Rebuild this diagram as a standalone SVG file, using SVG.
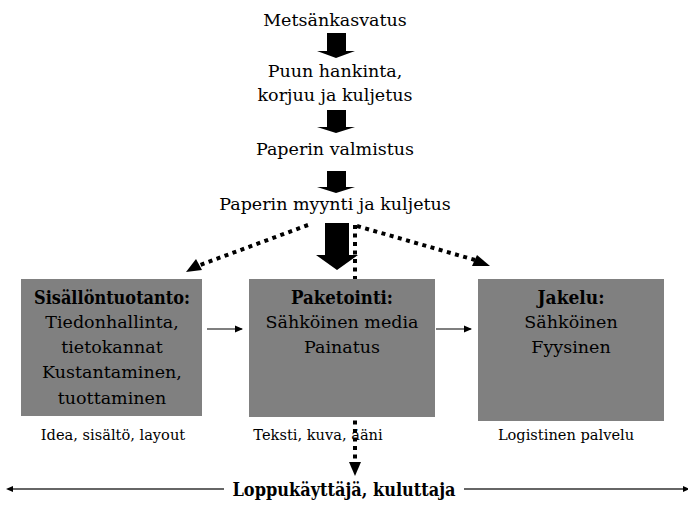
<svg xmlns="http://www.w3.org/2000/svg" width="688" height="506" viewBox="0 0 688 506">
<style>
text{fill:#000;text-anchor:middle;font-family:'DejaVu Serif',serif}
.t{font-size:17.5px}
.b{font-size:18px;font-weight:bold}
.s{font-size:14.6px}
.box{fill:#808080}
.blk{fill:#000}
.dot{fill:none;stroke:#000;stroke-width:4;stroke-dasharray:4 4.5}
.thin{fill:none;stroke:#000;stroke-width:1.2}
.ln{fill:none;stroke:#333;stroke-width:1.3}
</style>
<defs>
<marker id="ah" markerWidth="8" markerHeight="8" refX="7" refY="4" orient="auto" markerUnits="userSpaceOnUse">
<path d="M0,0.5 L8,4 L0,7.5 Z" fill="#000"/>
</marker>
</defs>
<rect width="688" height="506" fill="#fff"/>
<g id="chain">
<text class="t" x="335" y="26">Metsänkasvatus</text>
<text class="t" x="335" y="77">Puun hankinta,</text>
<text class="t" x="335" y="101">korjuu ja kuljetus</text>
<text class="t" x="335" y="155">Paperin valmistus</text>
<text class="t" x="335" y="210">Paperin myynti ja kuljetus</text>
</g>
<g id="connectors">
<path class="blk" d="M327,33 H346 V51 H355 L336,58 L317,51 H327 Z"/>
<path class="blk" d="M327,110 H346 V127 H355 L336,133 L317,127 H327 Z"/>
<path class="blk" d="M327,171 H346 V187 H355 L336,193 L317,187 H327 Z"/>
<path class="blk" d="M325,223 H349 V255 H358 L337,270 L316,255 H325 Z"/>
<path class="dot" d="M308,225 L200,265"/>
<path class="blk" d="M186,272 L196,259 L202,270 Z"/>
<path class="dot" d="M357,226 L475,260"/>
<path class="blk" d="M490,266 L472,266 L477,255 Z"/>
<path class="dot" d="M355,225 V462"/>
<path class="blk" d="M349,462 H361 L355,476 Z"/>
<path class="thin" d="M207,329 H242" marker-end="url(#ah)"/>
<path class="thin" d="M436,329 H471" marker-end="url(#ah)"/>
<path class="ln" d="M224,489 H12"/>
<path class="blk" d="M6,489 L13,486 L13,492 Z"/>
<path class="ln" d="M464,489 H684"/>
<path class="blk" d="M690,489 L683,486 L683,492 Z"/>
</g>
<g id="sisallontuotanto">
<rect class="box" x="21" y="279" width="181" height="137"/>
<text class="b" x="112" y="304" textLength="156" lengthAdjust="spacingAndGlyphs">Sisällöntuotanto:</text>
<text class="t" x="112" y="328">Tiedonhallinta,</text>
<text class="t" x="112" y="353">tietokannat</text>
<text class="t" x="112" y="378">Kustantaminen,</text>
<text class="t" x="112" y="404">tuottaminen</text>
<text class="s" x="113" y="440">Idea, sisältö, layout</text>
</g>
<g id="paketointi">
<rect class="box" x="249" y="279" width="186" height="138"/>
<text class="b" x="342" y="304" textLength="102" lengthAdjust="spacingAndGlyphs">Paketointi:</text>
<text class="t" x="342" y="328">Sähköinen media</text>
<text class="t" x="342" y="353">Painatus</text>
<text class="s" x="318" y="440">Teksti, kuva, ääni</text>
</g>
<g id="jakelu">
<rect class="box" x="478" y="279" width="186" height="142"/>
<text class="b" x="571" y="304" textLength="67" lengthAdjust="spacingAndGlyphs">Jakelu:</text>
<text class="t" x="571" y="328">Sähköinen</text>
<text class="t" x="571" y="353">Fyysinen</text>
<text class="s" x="566" y="440">Logistinen palvelu</text>
</g>
<g id="kuluttaja">
<text class="b" x="344" y="496" textLength="223" lengthAdjust="spacingAndGlyphs">Loppukäyttäjä, kuluttaja</text>
</g>
</svg>
